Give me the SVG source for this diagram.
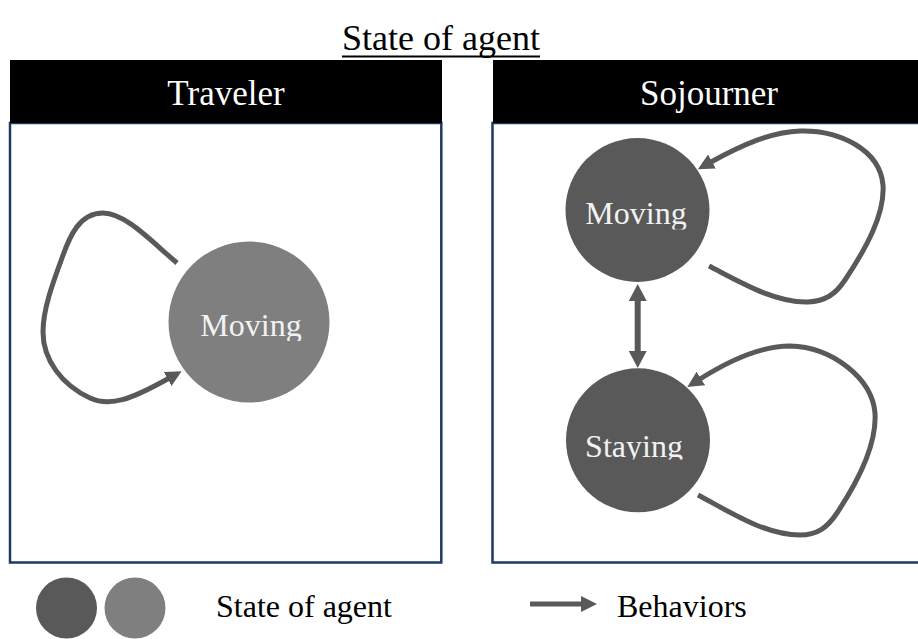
<svg xmlns="http://www.w3.org/2000/svg" width="918" height="639" viewBox="0 0 918 639">
  <style>
    .serif { font-family: "Liberation Serif", "Times New Roman", serif; }
    .title { font-size: 36px; fill: #000; }
    .head { font-size: 35px; fill: #fff; }
    .state { font-size: 32px; fill: #f2f2f2; }
    .legend { font-size: 32px; fill: #000; }
    .frame { fill: #fff; stroke: #203864; stroke-width: 2.5; }
    .bar { fill: #000; }
    .dark { fill: #595959; }
    .light { fill: #7f7f7f; }
    .edge { fill: none; stroke: #595959; stroke-width: 5; stroke-linecap: butt; }
    .edge2 { fill: none; stroke: #595959; stroke-width: 6; }
  </style>
  <defs>
    <marker id="head" viewBox="0 0 16 16" markerUnits="userSpaceOnUse" markerWidth="16" markerHeight="16" refX="1" refY="8" orient="auto-start-reverse">
      <path d="M0,0 L16,8 L0,16 z" fill="#595959"/>
    </marker>
    <marker id="head2" viewBox="0 0 17 18" markerUnits="userSpaceOnUse" markerWidth="17" markerHeight="18" refX="1" refY="9" orient="auto-start-reverse">
      <path d="M0,0 L17,9 L0,18 z" fill="#595959"/>
    </marker>
    <clipPath id="clipT"><rect x="150" y="290" width="200" height="51"/></clipPath>
    <clipPath id="clipM"><rect x="560" y="180" width="160" height="49.5"/></clipPath>
    <clipPath id="clipS"><rect x="560" y="410" width="160" height="49.5"/></clipPath>
  </defs>

  <rect width="918" height="639" fill="#fff"/>

  <!-- title -->
  <g id="title">
    <text class="serif title" x="441" y="50" text-anchor="middle">State of agent</text>
    <line x1="342" y1="56.5" x2="540" y2="56.5" stroke="#000" stroke-width="2"/>
  </g>

  <!-- panels -->
  <g id="panel-traveler">
    <rect class="frame" x="10" y="123" width="431.3" height="439.5"/>
    <rect class="bar" x="10" y="60" width="432" height="63"/>
    <text class="serif head" x="226" y="105" text-anchor="middle">Traveler</text>
  </g>
  <g id="panel-sojourner">
    <rect class="frame" x="492.5" y="123" width="432" height="439.5"/>
    <rect class="bar" x="493" y="60" width="432" height="63"/>
    <text class="serif head" x="709" y="105" text-anchor="middle">Sojourner</text>
  </g>

  <!-- state nodes -->
  <g id="traveler-moving">
    <circle class="light" cx="249" cy="322" r="80.5"/>
    <text class="serif state" x="251" y="336" text-anchor="middle" clip-path="url(#clipT)">Moving</text>
  </g>
  <g id="sojourner-moving">
    <circle class="dark" cx="637.5" cy="210" r="72"/>
    <text class="serif state" x="636" y="224" text-anchor="middle" clip-path="url(#clipM)">Moving</text>
  </g>
  <g id="sojourner-staying">
    <circle class="dark" cx="638" cy="440.3" r="72"/>
    <text class="serif state" x="634" y="456.7" text-anchor="middle" clip-path="url(#clipS)">Staying</text>
  </g>

  <!-- behaviours -->
  <g id="connectors">
    <path class="edge" marker-end="url(#head)" d="M177,263 C150,240 125,213 103,213 C80,213 70,235 62,258 C52,285 43,310 43,332 C43,360 62,385 90,398 C110,407 130,400 168.5,378.5"/>
    <path class="edge" marker-end="url(#head)" d="M709,266 C740,282 775,303 808,302 C825,301 835,295 845,280 C865,250 885,215 883,185 C880,150 840,130 800,131 C770,132 740,146 711,162"/>
    <path class="edge" marker-end="url(#head)" d="M698,495 C730,512 765,535 800,535 C817,535 827,528 837,513 C857,483 877,445 875,413 C872,378 832,347 790,346 C760,346 730,360 700,379"/>
    <path class="edge2" marker-start="url(#head2)" marker-end="url(#head2)" d="M637.7,300 L637.7,352"/>
  </g>

  <!-- legend -->
  <g id="legend">
    <circle class="dark" cx="66.5" cy="608" r="30.5"/>
    <circle class="light" cx="135" cy="608" r="30.5"/>
    <text class="serif legend" x="216" y="617">State of agent</text>
    <path class="edge" marker-end="url(#head)" d="M530,604 L582,604"/>
    <text class="serif legend" x="617" y="617">Behaviors</text>
  </g>
</svg>
